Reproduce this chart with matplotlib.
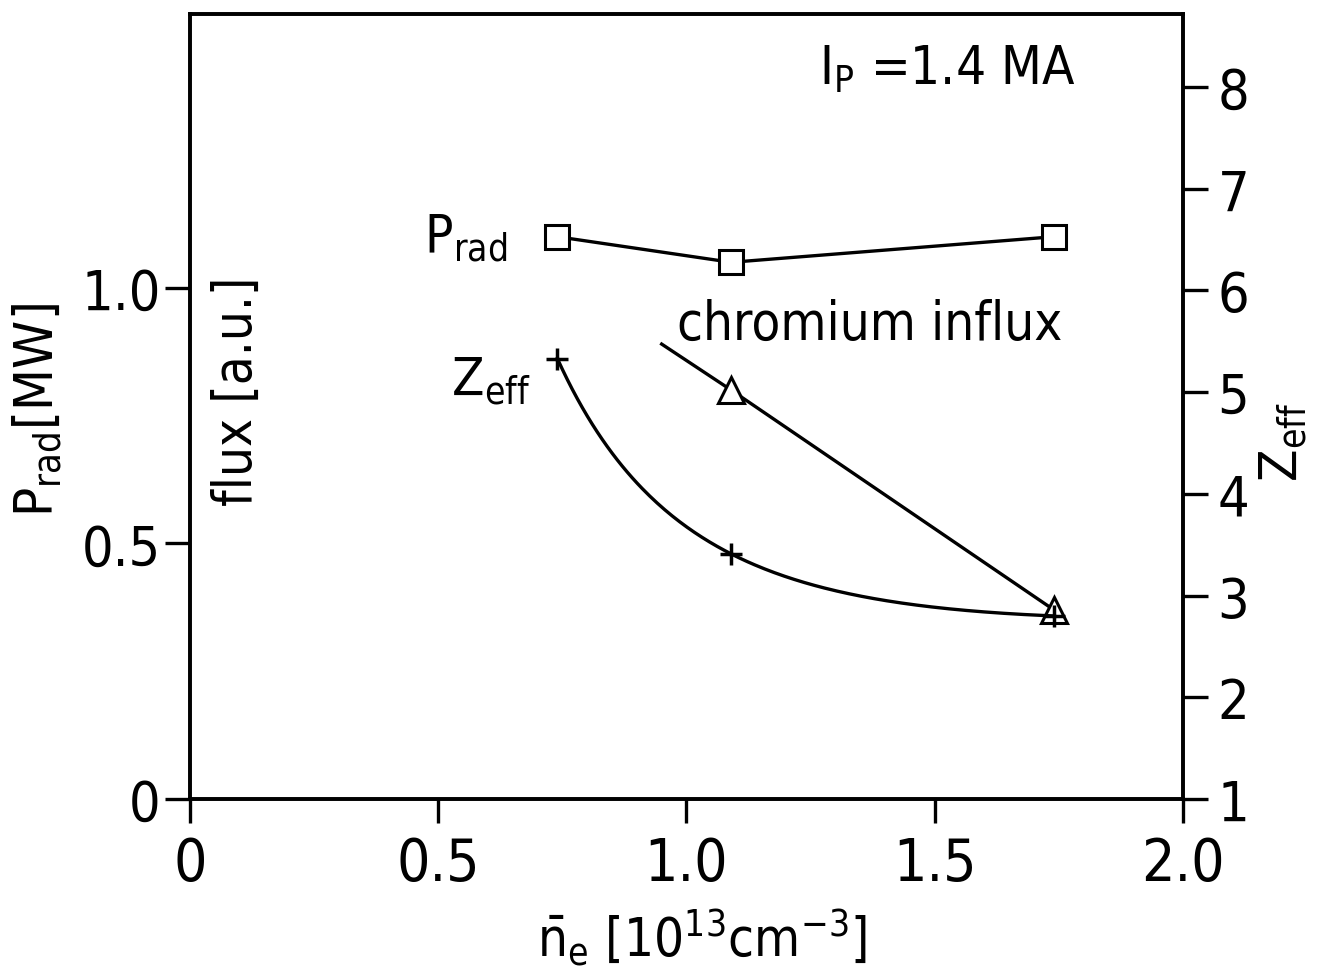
import numpy as np
import matplotlib
matplotlib.use("Agg")
import matplotlib.pyplot as plt

plt.rcParams['font.family'] = ['DejaVu Sans']
plt.rcParams['font.stretch'] = 'condensed'
plt.rcParams['mathtext.default'] = 'regular'

# === data ===
ne_prad = [0.74, 1.09, 1.74]
prad = [1.10, 1.05, 1.10]          # MW, left axis

ne_zeff = [0.74, 1.09, 1.74]
zeff = [5.33, 3.41, 2.80]          # right axis

ne_flux = [0.95, 1.09, 1.74]
flux = [0.89, 0.80, 0.37]          # a.u., left axis (first point = line start, no marker)

x_ticks = [0, 0.5, 1.0, 1.5, 2.0]
x_ticklabels = ['0', '0.5', '1.0', '1.5', '2.0']
left_ticks = [0, 0.5, 1.0]
left_ticklabels = ['0', '0.5', '1.0']
right_ticks = [1, 2, 3, 4, 5, 6, 7, 8]

FS = 38
LW = 2.4

fig = plt.figure(figsize=(13.25, 9.78), dpi=100)
ax = fig.add_axes([0.1434, 0.182, 0.7494, 0.8028])
ax2 = ax.twinx()

ax.set_xlim(0, 2.0)
ax.set_ylim(0, 1.536)
ax2.set_ylim(1, 8.72)

# P_rad
ax.plot(ne_prad, prad, color='black', lw=LW, marker='s', ms=17,
        mfc='white', mec='black', mew=2.2, zorder=3)

# chromium influx
ax.plot(ne_flux, flux, color='black', lw=LW, marker='^', ms=19,
        mfc='white', mec='black', mew=2.2, markevery=[1, 2], zorder=3)

# Z_eff: smooth curve through the three measured points (quadratic in 1/n)
u = 1.0 / np.array(ne_zeff)
coef = np.polyfit(u, zeff, 2)
xs = np.linspace(ne_zeff[0], ne_zeff[-1], 200)
ax2.plot(xs, np.polyval(coef, 1.0 / xs), color='black', lw=LW)
ax2.plot(ne_zeff, zeff, ls='none', marker='+', ms=16, mew=2.5, color='black')

# axes styling
for a in (ax, ax2):
    for s in a.spines.values():
        s.set_linewidth(2.6)

ax.set_xticks(x_ticks)
ax.set_xticklabels(x_ticklabels)
ax.set_yticks(left_ticks)
ax.set_yticklabels(left_ticklabels)
ax.tick_params(axis='y', direction='out', length=18, width=2.4,
               labelsize=FS + 2, pad=3)
ax.tick_params(axis='x', direction='out', length=17, width=2.4,
               labelsize=FS + 4, pad=9)
ax.tick_params(top=False, right=False)

ax2.set_yticks(right_ticks)
ax2.tick_params(axis='y', direction='out', length=18, width=2.4,
                labelsize=FS + 2, pad=7)

# labels
fig.text(0.028, 0.581, r'P$_{rad}$[MW]', rotation=90, fontsize=FS + 1,
         ha='center', va='center')
fig.text(0.179, 0.60, 'flux [a.u.]', rotation=90, fontsize=FS,
         ha='center', va='center')
fig.text(0.968, 0.548, r'Z$_{eff}$', rotation=90, fontsize=FS,
         ha='center', va='center')
fig.text(0.53, 0.042, r'$\bar{n}_e$ [10$^{13}$cm$^{-3}$]', fontsize=FS,
         ha='center', va='center')

# annotations
ax.text(0.556, 1.10, r'P$_{rad}$', fontsize=FS, ha='center', va='center')
ax.text(0.606, 0.82, r'Z$_{eff}$', fontsize=FS, ha='center', va='center')
ax.text(1.37, 0.93, 'chromium influx', fontsize=FS, ha='center', va='center')
ax.text(1.525, 1.43, r'I$_{P}$ =1.4 MA', fontsize=FS, ha='center', va='center')

fig.savefig('out.png', dpi=100)
